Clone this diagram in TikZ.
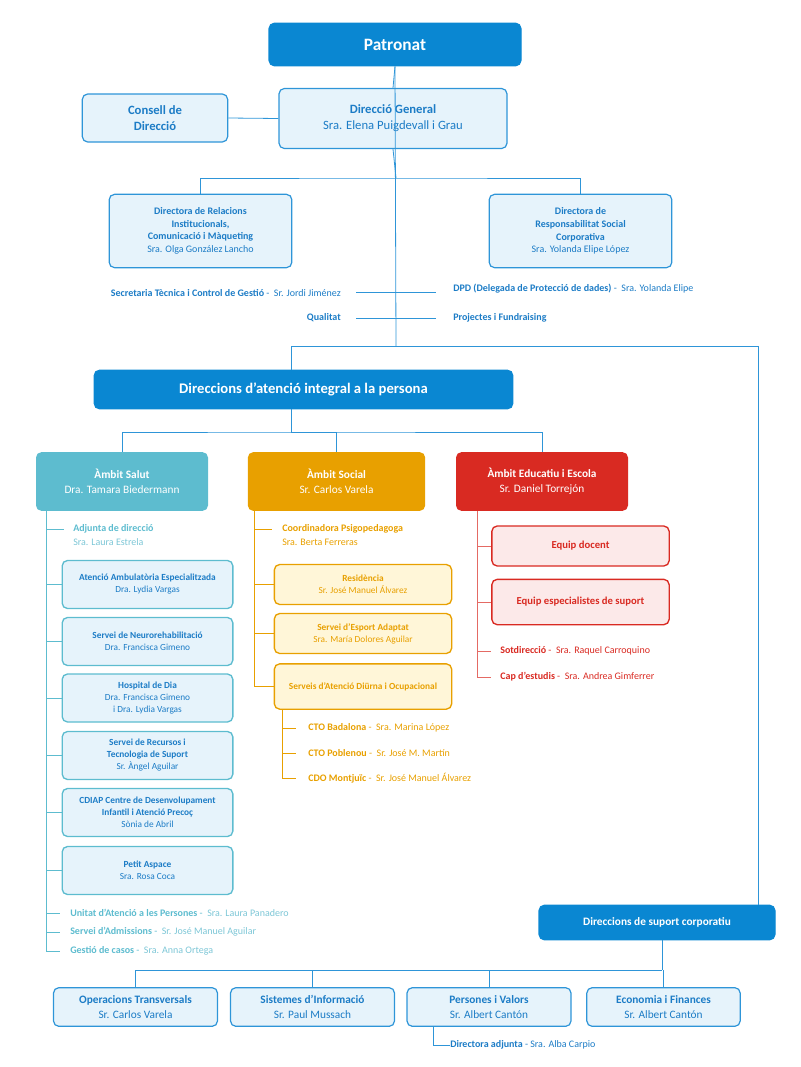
\documentclass[tikz,border=0pt]{standalone}
\usepackage{fontspec}
\setmainfont{Carlito}
\definecolor{dblue}{HTML}{0A87D2}
\definecolor{tblue}{HTML}{1C7CC6}
\definecolor{lfill}{HTML}{E6F3FB}
\definecolor{lnb}{HTML}{2E95D8}
\definecolor{teal}{HTML}{5DBCCF}
\definecolor{tealt}{HTML}{7CC6D6}
\definecolor{orng}{HTML}{E8A000}
\definecolor{ofill}{HTML}{FFF6D8}
\definecolor{redc}{HTML}{D92A22}
\definecolor{rfill}{HTML}{FCE9E9}
\tikzset{
 dbox/.style={draw=dblue,fill=dblue,text=white,rounded corners=4pt,font=\bfseries,align=center,line width=0.8pt},
 lbox/.style={draw=lnb,fill=lfill,text=tblue,rounded corners=4pt,align=center,line width=0.9pt,inner sep=2pt},
 sbox/.style={draw=teal,fill=lfill,text=tblue,rounded corners=4pt,align=center,line width=1pt,font=\fontsize{7}{9}\selectfont,inner sep=1pt},
 obox/.style={draw=orng,fill=ofill,text=orng,rounded corners=4pt,align=center,line width=1pt,font=\fontsize{7}{9}\selectfont,inner sep=1pt},
 rbox/.style={draw=redc,fill=rfill,text=redc,rounded corners=4pt,align=center,line width=1pt,font=\fontsize{8}{10}\selectfont\bfseries,inner sep=1pt},
 abox/.style={rounded corners=4pt,align=center,text=white,font=\fontsize{8.5}{11}\selectfont,inner sep=1pt},
 item/.style={anchor=west,inner sep=0pt,align=left,font=\fontsize{7.5}{9.5}\selectfont},
 bl/.style={draw=lnb,line width=0.6pt},
 tl/.style={draw=teal,line width=0.7pt},
 ol/.style={draw=orng,line width=0.7pt},
 rl/.style={draw=redc!70,line width=0.7pt},
}
\begin{document}
\begin{tikzpicture}[x=0.75pt,y=-0.75pt]
\useasboundingbox (0,0) rectangle (800,1067);
% top
\node[dbox,minimum width=189pt,minimum height=32pt,font=\fontsize{13}{15}\selectfont\bfseries] (pat) at (395,44.5) {Patronat};
\node[lbox,minimum width=171pt,minimum height=45pt,font=\fontsize{9.5}{12}\selectfont] (dg) at (393,118.5) {\textbf{Direcció General}\\Sra. Elena Puigdevall i Grau};
\node[lbox,minimum width=109pt,minimum height=36pt,font=\fontsize{9.5}{12}\selectfont\bfseries] (cd) at (155,118) {Consell de\\Direcció};
\draw[bl] (cd.east) -- (dg.west);
\draw[bl] (pat.south) -- (dg.north);
\node[lbox,minimum width=137pt,minimum height=55pt,font=\fontsize{7.5}{9.5}\selectfont] (ri) at (200.5,231) {\textbf{Directora de Relacions}\\\textbf{Institucionals,}\\\textbf{Comunicació i Màqueting}\\Sra. Olga González Lancho};
\node[lbox,minimum width=137pt,minimum height=55pt,font=\fontsize{7.5}{9.5}\selectfont] (rsc) at (580.5,231) {\textbf{Directora de}\\\textbf{Responsabilitat Social}\\\textbf{Corporativa}\\Sra. Yolanda Elipe López};
\coordinate (h1) at (396,178);
\draw[bl] (dg.south) -- (h1);
\draw[bl] (ri.north) |- (h1) -| (rsc.north);
\coordinate (spine) at (396,346);
\draw[bl] (pat.south) -- (spine);
\node[item,anchor=east,text=tblue] (sec) at (341,293) {\textbf{Secretaria Tècnica i Control de Gestió} - \ Sr. Jordi Jiménez};
\node[item,text=tblue] (dpd) at (453,289) {\textbf{DPD (Delegada de Protecció de dades)} - \ Sra. Yolanda Elipe};
\node[item,anchor=east,text=tblue] (qua) at (341,318) {\textbf{Qualitat}};
\node[item,text=tblue] (pro) at (453,318) {\textbf{Projectes i Fundraising}};
\coordinate (s1) at (356,292); \coordinate (s2) at (436,292);
\coordinate (q1) at (356,318); \coordinate (q2) at (436,318);
\draw[bl] (s1) -- (s2); \draw[bl] (q1) -- (q2);
% atencio
\node[dbox,minimum width=314pt,minimum height=29pt,font=\fontsize{11}{13}\selectfont\bfseries] (at) at (303.5,389.5) {Direccions d'atenció integral a la persona};
\node[dbox,minimum width=177pt,minimum height=26pt,font=\fontsize{8.5}{10}\selectfont\bfseries] (sup) at (657,922.5) {Direccions de suport corporatiu};
\coordinate (al) at (291,346); \coordinate (ar) at (758,346);
\draw[bl] (al) -- (ar);
\draw[bl] (al) -- (al|-at.north);
\draw[bl] (ar) -- (ar|-sup.north);
% ambits
\node[abox,fill=teal,minimum width=129pt,minimum height=44pt] (sal) at (122,481.5) {\textbf{Àmbit Salut}\\Dra. Tamara Biedermann};
\node[abox,fill=orng,minimum width=133pt,minimum height=44pt] (soc) at (336.5,481.5) {\textbf{Àmbit Social}\\Sr. Carlos Varela};
\node[abox,fill=redc,minimum width=129pt,minimum height=44pt] (edu) at (542,481.5) {\textbf{Àmbit Educatiu i Escola}\\Sr. Daniel Torrejón};
\coordinate (h2) at (291,432);
\draw[bl] (h2|-at.south) -- (h2);
\draw[bl] (sal.north) |- (h2) -| (edu.north);
\draw[bl] (h2) -| (soc.north);
% salut
\coordinate (st) at (46,511); \coordinate (sb) at (46,951);
\draw[tl] (st) -- (sb);
\coordinate (sa) at (46,529); \coordinate (sa2) at (64,529);
\draw[tl] (sa) -- (sa2);
\node[item,text=teal] (adj) at (73,535.5) {\textbf{Adjunta de direcció}\\[1pt]\textcolor{tealt}{Sra. Laura Estrela}};
\node[sbox,minimum width=128pt,minimum height=36pt] (b1) at (147.5,584.5) {\textbf{Atenció Ambulatòria Especialitzada}\\Dra. Lydia Vargas};
\node[sbox,minimum width=128pt,minimum height=36pt] (b2) at (147.5,641.5) {\textbf{Servei de Neurorehabilitació}\\Dra. Francisca Gimeno};
\node[sbox,minimum width=128pt,minimum height=36pt] (b3) at (147.5,698) {\textbf{Hospital de Dia}\\Dra. Francisca Gimeno\\i Dra. Lydia Vargas};
\node[sbox,minimum width=128pt,minimum height=36pt] (b4) at (147.5,755.5) {\textbf{Servei de Recursos i}\\\textbf{Tecnologia de Suport}\\Sr. Àngel Aguilar};
\node[sbox,minimum width=128pt,minimum height=36pt] (b5) at (147.5,812.5) {\textbf{CDIAP Centre de Desenvolupament}\\\textbf{Infantil i Atenció Precoç}\\Sònia de Abril};
\node[sbox,minimum width=128pt,minimum height=36pt] (b6) at (147.5,870.5) {\textbf{Petit Aspace}\\Sra. Rosa Coca};
\foreach \b in {b1,b2,b3,b4,b5,b6} \draw[tl] (\b.west) -- (\b.west-|st);
\foreach \y/\t/\n in {913/Unitat d'Atenció a les Persones/Sra. Laura Panadero,932/Servei d'Admissions/Sr. José Manuel Aguilar,951/Gestió de casos/Sra. Anna Ortega}{
 \draw[tl] (46,\y) -- (60,\y);
 \node[item,text=teal] at (70,\y) {\textbf{\t} - \ \textcolor{tealt}{\n}};}
% social
\coordinate (ot) at (254,511); \coordinate (ob) at (254,686.5);
\draw[ol] (ot) -- (ob);
\draw[ol] (254,529) -- (272,529);
\node[item,text=orng] (coo) at (282,535.5) {\textbf{Coordinadora Psigopedagoga}\\[1pt]Sra. Berta Ferreras};
\node[obox,minimum width=133pt,minimum height=30pt] (o1) at (363,584.5) {\textbf{Residència}\\Sr. José Manuel Álvarez};
\node[obox,minimum width=133pt,minimum height=30pt] (o2) at (363,633.5) {\textbf{Servei d'Esport Adaptat}\\Sra. María Dolores Aguilar};
\node[obox,minimum width=133pt,minimum height=34pt] (o3) at (363,686.5) {\textbf{Serveis d'Atenció Diürna i Ocupacional}};
\foreach \b in {o1,o2,o3} \draw[ol] (\b.west) -- (\b.west-|ot);
\coordinate (ct) at (282,709); \coordinate (cb) at (282,778);
\draw[ol] (ct) -- (cb);
\foreach \y/\t/\n in {728/CTO Badalona/Sra. Marina López,753/CTO Poblenou/Sr. José M. Martín,778/CDO Montjuïc/Sr. José Manuel Álvarez}{
 \draw[ol] (282,\y) -- (296,\y);
 \node[item,text=orng] at (308,\y) {\textbf{\t} - \ \n};}
% educatiu
\coordinate (et) at (477,511); \coordinate (eb) at (477,677);
\draw[rl] (et) -- (eb);
\node[rbox,minimum width=133pt,minimum height=30pt] (r1) at (580.5,546) {Equip docent};
\node[rbox,minimum width=133pt,minimum height=34pt] (r2) at (580.5,602) {Equip especialistes de suport};
\foreach \b in {r1,r2} \draw[rl] (\b.west) -- (\b.west-|et);
\foreach \y/\t/\n in {651/Sotdirecció/Sra. Raquel Carroquino,677/Cap d'estudis/Sra. Andrea Gimferrer}{
 \draw[rl] (477,\y) -- (491,\y);
 \node[item,text=redc] at (500,\y) {\textbf{\t} - \ \n};}
% suport
\node[lbox,minimum width=123pt,minimum height=29pt,font=\fontsize{8.5}{11}\selectfont] (p1) at (135.5,1007) {\textbf{Operacions Transversals}\\Sr. Carlos Varela};
\node[lbox,minimum width=123pt,minimum height=29pt,font=\fontsize{8.5}{11}\selectfont] (p2) at (312.5,1007) {\textbf{Sistemes d'Informació}\\Sr. Paul Mussach};
\node[lbox,minimum width=123pt,minimum height=29pt,font=\fontsize{8.5}{11}\selectfont] (p3) at (489,1007) {\textbf{Persones i Valors}\\Sr. Albert Cantón};
\node[lbox,minimum width=115pt,minimum height=29pt,font=\fontsize{8.5}{11}\selectfont] (p4) at (663.5,1007) {\textbf{Economia i Finances}\\Sr. Albert Cantón};
\coordinate (h3) at (662,970);
\draw[bl] (h3|-sup.south) -- (h3);
\draw[bl] (p1.north) |- (h3);
\draw[bl] (p2.north) -- (p2.north|-h3);
\draw[bl] (p3.north) -- (p3.north|-h3);
\draw[bl] (p4.north) -- (p4.north|-h3);
\coordinate (da) at (433,1045);
\node[item,text=tblue] (dad) at (450,1045) {\textbf{Directora adjunta} - Sra. Alba Carpio};
\draw[bl] (da|-p3.south) -- (da) -- (dad.west);
\end{tikzpicture}
\end{document}
